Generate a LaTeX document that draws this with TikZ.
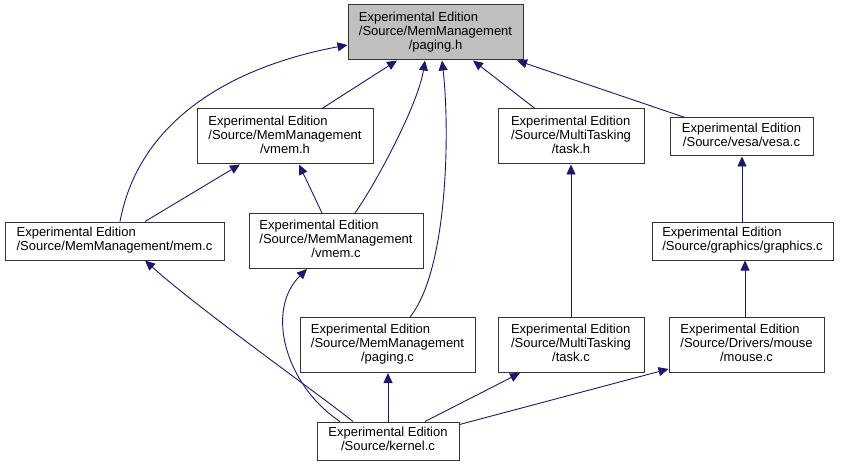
\documentclass[tikz,border=0pt]{standalone}
\usepackage{fontspec}
\setmainfont{Liberation Sans}
\usetikzlibrary{arrows.meta}
\definecolor{edgeblue}{HTML}{191970}
\definecolor{rootfill}{HTML}{BFBFBF}
\newcommand{\lbl}[2]{\begin{tabular}{@{}l@{}}#1\\\multicolumn{1}{@{}c@{}}{#2}\end{tabular}}
\tikzset{
  filebox/.style={draw=black!80, line width=1pt, fill=white, inner sep=0pt,
    font=\fontsize{13}{14}\selectfont, minimum height=38pt},
  tall/.style={minimum height=55pt},
  rootbox/.style={fill=rootfill},
  dep/.style={draw=edgeblue, line width=0.9pt,
    -{Triangle[length=10pt,width=9pt]}, fill=none}
}
\begin{document}
\begin{tikzpicture}[x=1pt,y=-1pt]
\useasboundingbox (0,0) rectangle (841,468);
\node[filebox,tall,rootbox,minimum width=175pt] (pagingh) at (435.5,32.5)
  {\lbl{Experimental Edition\\/Source/MemManagement}{/paging.h}};
\node[filebox,tall,minimum width=176pt] (vmemh) at (285,136.5)
  {\lbl{Experimental Edition\\/Source/MemManagement}{/vmem.h}};
\node[filebox,tall,minimum width=146pt] (taskh) at (571,136.5)
  {\lbl{Experimental Edition\\/Source/MultiTasking}{/task.h}};
\node[filebox,minimum width=143pt] (vesac) at (741.5,137)
  {\lbl{Experimental Edition}{/Source/vesa/vesa.c}};
\node[filebox,minimum width=219pt] (memc) at (114.5,241)
  {\lbl{Experimental Edition}{/Source/MemManagement/mem.c}};
\node[filebox,tall,minimum width=174pt] (vmemc) at (336,241)
  {\lbl{Experimental Edition\\/Source/MemManagement}{/vmem.c}};
\node[filebox,minimum width=181pt] (graphicsc) at (742.5,241)
  {\lbl{Experimental Edition}{/Source/graphics/graphics.c}};
\node[filebox,tall,minimum width=175pt] (pagingc) at (387.5,345)
  {\lbl{Experimental Edition\\/Source/MemManagement}{/paging.c}};
\node[filebox,tall,minimum width=146pt] (taskc) at (571,345)
  {\lbl{Experimental Edition\\/Source/MultiTasking}{/task.c}};
\node[filebox,tall,minimum width=155pt] (mousec) at (746.5,345)
  {\lbl{Experimental Edition\\/Source/Drivers/mouse}{/mouse.c}};
\node[filebox,minimum width=142pt] (kernelc) at (388,441)
  {\lbl{Experimental Edition}{/Source/kernel.c}};

\draw[dep] ([xshift=37pt]vmemh.north) -- ([xshift=-38.5pt]pagingh.south);
\draw[dep] ([xshift=5.5pt]memc.north) .. controls (140,115) and (240,65) .. ([yshift=-12.5pt]pagingh.west);
\draw[dep] ([xshift=30.5pt]memc.north) -- ([xshift=-45pt]vmemh.south);
\draw[dep] ([xshift=-14pt]vmemc.north) -- ([xshift=14pt]vmemh.south);
\draw[dep] ([xshift=19pt]vmemc.north) .. controls (375,185) and (418,105) .. ([xshift=-10.5pt]pagingh.south);
\draw[dep] ([xshift=22.5pt]pagingc.north) .. controls (448,270) and (450,130) .. ([xshift=6.5pt]pagingh.south);
\draw[dep] ([xshift=-36pt]taskh.north) -- ([xshift=37.5pt]pagingh.south);
\draw[dep] ([xshift=-56.5pt]vesac.north) -- ([xshift=81.5pt]pagingh.south);
\draw[dep] (taskc.north) -- (taskh.south);
\draw[dep] ([xshift=-0.5pt]graphicsc.north) -- ([xshift=-0.5pt]graphicsc.north |- vesac.south);
\draw[dep] ([xshift=-1.5pt]mousec.north) -- ([xshift=-1.5pt]mousec.north |- graphicsc.south);
\draw[dep] ([xshift=-35pt]kernelc.north) .. controls (320,395) and (200,310) .. ([xshift=30.5pt]memc.south);
\draw[dep] ([xshift=-48pt]kernelc.north) .. controls (285,385) and (265,310) .. ([xshift=-29pt]vmemc.south);
\draw[dep] (kernelc.north) -- (kernelc.north |- pagingc.south);
\draw[dep] ([xshift=37pt]kernelc.north) -- ([xshift=-51pt]taskc.south);
\draw[dep] ([yshift=-3pt]kernelc.north east) -- ([yshift=-24pt]mousec.west);
\end{tikzpicture}
\end{document}
